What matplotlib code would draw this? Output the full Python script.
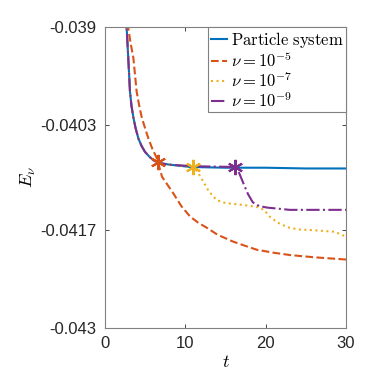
import numpy as np
import matplotlib
matplotlib.use('Agg')
from matplotlib import pyplot as plt

plt.rcParams['mathtext.fontset'] = 'cm'
plt.rcParams['font.family'] = ['Liberation Sans', 'DejaVu Sans']

# particle system
t_ps = [2.6, 2.7, 2.9, 3.11, 3.3, 3.53, 3.8, 4.15, 4.55, 4.98, 5.5, 6.0, 6.85,
        8.1, 10.6, 15, 20, 25, 30]
E_ps = [-0.03880, -0.03902, -0.03942, -0.03986, -0.04005, -0.04020, -0.04034,
        -0.04048, -0.04058, -0.04066, -0.04072, -0.04077, -0.04081,
        -0.04083, -0.04086, -0.04087, -0.04087, -0.04088, -0.04088]

# nu = 1e-5
t_nu5 = [2.8, 2.9, 3.2, 3.53, 3.94, 4.25, 4.57, 5.0, 5.4, 5.9, 6.44, 6.6, 7.1, 7.8,
         8.5, 9.5, 10.6, 11.6, 12.7, 14, 15.9, 17.5, 18.9, 21, 23, 26, 30]
E_nu5 = [-0.03880, -0.03902, -0.03922, -0.03941, -0.03986, -0.04004, -0.04020,
         -0.04035, -0.04048, -0.04062, -0.04074, -0.04080, -0.04099, -0.04110,
         -0.04121, -0.04138, -0.04152, -0.04160, -0.04167, -0.04176, -0.04185,
         -0.04191, -0.04196, -0.04200, -0.04203, -0.04206, -0.04209]

# nu = 1e-7
t_nu7 = [2.6, 2.7, 2.9, 3.11, 3.3, 3.53, 3.8, 4.15, 4.55, 4.98, 5.5, 6.0, 6.85,
         8.1, 11.0, 11.5, 12.1, 12.9, 13.9, 15, 16.8, 18.9, 19.8, 20.5, 21.5,
         22.7, 24, 25.9, 28.4, 29.3, 30]
E_nu7 = [-0.03880, -0.03902, -0.03942, -0.03986, -0.04005, -0.04020, -0.04034,
         -0.04048, -0.04058, -0.04066, -0.04072, -0.04077, -0.04081,
         -0.04083, -0.04086, -0.04092, -0.04103, -0.04118, -0.04130, -0.04134,
         -0.04136, -0.04139, -0.04143, -0.04152, -0.04160, -0.04166, -0.04169,
         -0.04170, -0.04172, -0.04175, -0.04179]

# nu = 1e-9
t_nu9 = [2.6, 2.7, 2.9, 3.11, 3.3, 3.53, 3.8, 4.15, 4.55, 4.98, 5.5, 6.0, 6.85,
         8.1, 11.0, 16.2, 16.7, 17.2, 17.8, 18.4, 19.2, 20.2, 23, 30]
E_nu9 = [-0.03880, -0.03902, -0.03942, -0.03986, -0.04005, -0.04020, -0.04034,
         -0.04048, -0.04058, -0.04066, -0.04072, -0.04077, -0.04081,
         -0.04083, -0.04085, -0.04086, -0.04094, -0.04107, -0.04122, -0.04133,
         -0.04138, -0.04140, -0.04143, -0.04143]

# switching points (stars)
t_star = [6.6, 11.0, 16.2]
E_star = [-0.04080, -0.04086, -0.04086]

labels = [r'$\mathrm{Particle\ system}$', r'$\nu=10^{-5}$', r'$\nu=10^{-7}$', r'$\nu=10^{-9}$']
colors = ['#0072BD', '#D95319', '#EDB120', '#7E2F8E']

yticks = [-0.039, -0.0403, -0.0417, -0.043]
ytick_labels = ['-0.039', '-0.0403', '-0.0417', '-0.043']
xticks = [0, 10, 20, 30]

fig = plt.figure(figsize=(3.82, 3.82), dpi=100)
ax = fig.add_axes([105 / 382, 1 - 328 / 382, 241 / 382, 301 / 382])

ax.plot(t_ps, E_ps, '-', color=colors[0], lw=1.5, label=labels[0])
ax.plot(t_nu5, E_nu5, '--', color=colors[1], lw=1.5, label=labels[1])
ax.plot(t_nu7, E_nu7, ':', color=colors[2], lw=1.5, label=labels[2])
ax.plot(t_nu9, E_nu9, '-.', color=colors[3], lw=1.5, label=labels[3])

for i in range(3):
    ax.plot(t_star[i], E_star[i], marker=(6, 2, 0), ms=11, mew=1.5,
            color=colors[i + 1], ls='none')

ax.set_xlim(0, 30)
ax.set_ylim(-0.043, -0.039)
ax.set_xticks(xticks)
ax.set_yticks(yticks)
ax.set_yticklabels(ytick_labels)
ax.tick_params(direction='in', length=3, width=0.6, colors='#262626',
               labelsize=12, top=True, right=True, pad=6)
for s in ax.spines.values():
    s.set_color('#808080')
    s.set_linewidth(0.8)

ax.set_xlabel(r'$t$', fontsize=13, labelpad=2)
ax.set_ylabel(r'$E_\nu$', fontsize=13, labelpad=2)

leg = ax.legend(loc='upper right', fontsize=12, handlelength=1.0, handletextpad=0.2,
                borderaxespad=0, fancybox=False, framealpha=1, borderpad=0.15,
                labelspacing=0.05)
leg.get_frame().set_edgecolor('#808080')
leg.get_frame().set_linewidth(0.8)

plt.savefig('out.png', dpi=100)
